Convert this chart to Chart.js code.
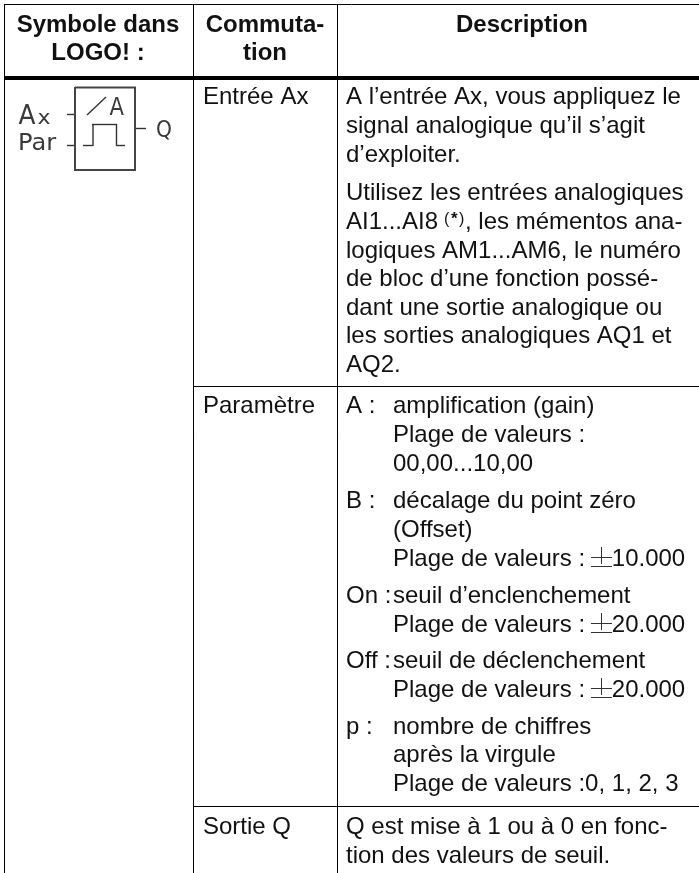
<!DOCTYPE html>
<html>
<head>
<meta charset="utf-8">
<title>Symbole dans LOGO!</title>
<script src="https://cdn.jsdelivr.net/npm/chart.js@4/dist/chart.umd.min.js"></script>
<style>
  html, body { margin: 0; padding: 0; background: #fff; }
  canvas { display: block; }
</style>
</head>
<body>
<canvas id="table-chart" width="699" height="873"></canvas>
<script>
// table content
const headerLabels = ["Symbole dans", "LOGO! :", "Commuta-", "tion", "Description"];
const switchLabels = ["Entrée Ax", "Paramètre", "Sortie Q"];
const descLabels = [
    "A l’entrée Ax, vous appliquez le",
    "signal analogique qu’il s’agit",
    "d’exploiter.",
    "Utilisez les entrées analogiques",
    "AI1...AI8",
    "logiques AM1...AM6, le numéro",
    "de bloc d’une fonction possé-",
    "dant une sortie analogique ou",
    "les sorties analogiques AQ1 et",
    "AQ2.",
    "A :",
    "B :",
    "On :",
    "Off :",
    "p :",
    "Q est mise à 1 ou à 0 en fonc-",
    "tion des valeurs de seuil."
];
const paramLabels = [
    "amplification (gain)",
    "Plage de valeurs :",
    "00,00...10,00",
    "décalage du point zéro",
    "(Offset)",
    "Plage de valeurs : ",
    "seuil d’enclenchement",
    "Plage de valeurs : ",
    "seuil de déclenchement",
    "Plage de valeurs : ",
    "nombre de chiffres",
    "après la virgule",
    "Plage de valeurs :0, 1, 2, 3"
];
const plusMinusValues = ["10.000", "20.000", "20.000"];
const symbolLabels = ["A", "x", "Par", "Q", "A"];

// where things sit, in table units (1 unit = 1 px here)
const headerX = [98, 98, 265, 265, 522];
const headerY = [32, 60, 32, 60, 32];
const switchY = [104, 413, 834];
const descY = [104, 133, 162, 200, 229, 258, 286, 315, 343, 372, 413, 508, 603, 668, 734, 834, 863];
const paramY = [413, 442, 471, 508, 537, 566, 603, 632, 668, 697, 734, 762, 791];
const symbolX = [18.5, 37.5, 18, 156, 109.5];
const symbolY = [124, 124, 150, 137, 115];
const symbolSize = [23, 21, 23, 23, 23];
const symbolScaleX = [1.08, 1.05, 1.05, 0.88, 0.92];
const symbolScaleY = [1.13, 0.95, 1, 1, 1.07];

// rules: [x1, y1, x2, y2]
const thinRules = [
    [4, 4.5, 699, 4.5],
    [4.5, 4, 4.5, 873],
    [193.5, 4, 193.5, 873],
    [337.5, 4, 337.5, 873],
    [193.5, 386.5, 699, 386.5],
    [193.5, 806.5, 699, 806.5]
];
const thickRules = [[4, 78, 699, 78]];
const symbolBox = [
    [75, 87.5, 136, 87.5], [135, 87, 135, 171], [136, 170, 74, 170], [75, 171, 75, 87]
];
const symbolLines = [
    [67, 114.5, 75, 114.5], [67, 145.5, 75, 145.5], [136, 128.5, 146, 128.5],
    [87, 115, 106, 97],
    [83, 145.5, 93, 145.5], [93, 146, 93, 124], [92, 124.5, 117, 124.5], [116.5, 124, 116.5, 146], [116, 145.5, 125, 145.5]
];

function segmentDataset(seg, color, width) {
    return {
        data: [{ x: seg[0], y: seg[1] }, { x: seg[2], y: seg[3] }],
        showLine: true,
        borderColor: color,
        borderWidth: width,
        pointRadius: 0
    };
}

const textPlugin = {
    id: 'tableText',
    afterDatasetsDraw(chart) {
        const c = chart.ctx;
        const sx = chart.scales.x;
        const sy = chart.scales.y;
        const sans = '"Liberation Sans", Arial, sans-serif';
        const put = (txt, x, y, font, color, align) => {
            c.font = font;
            c.fillStyle = color || '#111';
            c.textAlign = align || 'left';
            c.textBaseline = 'alphabetic';
            c.fillText(txt, sx.getPixelForValue(x), sy.getPixelForValue(y));
            return c.measureText(txt).width;
        };
        c.save();
        headerLabels.forEach((t, i) => put(t, headerX[i], headerY[i], 'bold 24px ' + sans, '#111', 'center'));
        switchLabels.forEach((t, i) => put(t, 203, switchY[i], '24px ' + sans));
        descLabels.forEach((t, i) => {
            const w = put(t, 346, descY[i], '24px ' + sans);
            if (t === "AI1...AI8") {
                let x = 346 + w + 6;
                x += put("(", x, descY[i] - 5, '16px ' + sans);
                x += put("*", x + 1.5, descY[i] - 5, 'bold 17px ' + sans) + 3;
                x += put(")", x, descY[i] - 5, '16px ' + sans);
                put(", les mémentos ana-", 465, descY[i], '24px ' + sans);
            }
        });
        let pm = 0;
        paramLabels.forEach((t, i) => {
            const w = put(t, 393, paramY[i], '24px ' + sans);
            if (t.endsWith(": ")) {
                const x = 393 + w - 1;
                c.save();
                c.strokeStyle = '#333';
                c.lineWidth = 1;
                const y0 = Math.round(sy.getPixelForValue(paramY[i]));
                const xr = Math.round(sx.getPixelForValue(x));
                c.beginPath();
                c.moveTo(xr, y0 - 8.5); c.lineTo(xr + 21, y0 - 8.5);
                c.moveTo(xr + 10.5, y0 - 19); c.lineTo(xr + 10.5, y0 - 2);
                c.moveTo(xr, y0 + 0.5); c.lineTo(xr + 21, y0 + 0.5);
                c.stroke();
                c.restore();
                put(plusMinusValues[pm++], x + 21, paramY[i], '24px ' + sans);
            }
        });
        // block symbol lettering is wider/taller than plain DejaVu
        symbolLabels.forEach((t, i) => {
            c.save();
            c.font = symbolSize[i] + 'px "DejaVu Sans"';
            c.fillStyle = '#3a3a3a';
            c.textAlign = 'left';
            c.translate(sx.getPixelForValue(symbolX[i]), sy.getPixelForValue(symbolY[i]));
            c.scale(symbolScaleX[i], symbolScaleY[i]);
            c.fillText(t, 0, 0);
            c.restore();
        });
        c.restore();
    }
};

const datasets = [];
thinRules.forEach(s => datasets.push(segmentDataset(s, '#000', 1)));
thickRules.forEach(s => datasets.push(segmentDataset(s, '#000', 4)));
symbolBox.forEach(s => datasets.push(segmentDataset(s, '#444', 2)));
symbolLines.forEach(s => datasets.push(segmentDataset(s, '#333', 1.4)));

new Chart(document.getElementById('table-chart').getContext('2d'), {
    type: 'scatter',
    data: { datasets: datasets },
    options: {
        responsive: false,
        animation: false,
        layout: { padding: 0 },
        plugins: { legend: { display: false }, tooltip: { enabled: false } },
        scales: {
            x: { type: 'linear', display: false, min: 0, max: 699 },
            y: { type: 'linear', display: false, min: 0, max: 873, reverse: true }
        }
    },
    plugins: [textPlugin]
});
</script>
</body>
</html>
